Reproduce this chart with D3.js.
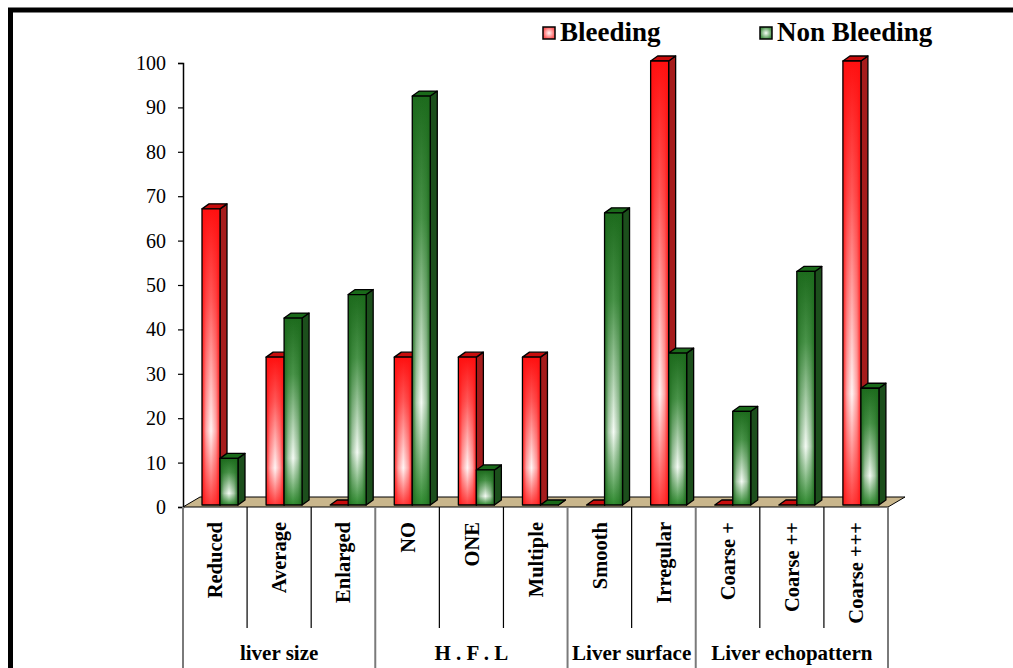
<!DOCTYPE html>
<html>
<head>
<meta charset="utf-8">
<script src="https://cdn.jsdelivr.net/npm/d3@7"></script>
<style>
  body { margin: 0; background: #fff; }
  svg { display: block; font-family: "Liberation Serif", "Times New Roman", serif; }
</style>
</head>
<body>
<svg id="chart" width="1013" height="668"></svg>
<script>
// data (percentages)
const categories = ["Reduced", "Average", "Enlarged", "NO", "ONE", "Multiple", "Smooth", "Irregular", "Coarse +", "Coarse ++", "Coarse +++"];
const groups = ["liver size", "H . F . L", "Liver surface", "Liver echopattern"];
const groupSizes = [3, 3, 2, 3];
const series = ["Bleeding", "Non Bleeding"];
const bleeding = [66.7, 33.3, 0, 33.3, 33.3, 33.3, 0, 100, 0, 0, 100];
const nonBleeding = [10.5, 42.1, 47.4, 92.1, 7.9, 0, 65.8, 34.2, 21.1, 52.6, 26.3];
const yTicks = d3.range(0, 101, 10);

const serif = "'Liberation Serif', 'Times New Roman', serif";
const svg = d3.select("#chart");
const width = +svg.attr("width"), height = +svg.attr("height");

const plotLeft = 183, plotRight = 888, plotTop = 63, plotBottom = 507;
const floorDx = 17, floorDy = -10;   // floor depth
const barDx = 7, barDy = -5;         // bar depth
const barLift = 2;                   // bars stand a bit back on the floor

const x = d3.scaleBand().domain(categories).range([plotLeft, plotRight]);
const xs = d3.scaleBand().domain(series).range([19, 55]);
const y = d3.scaleLinear().domain([0, 100]).range([plotBottom, plotTop]);

const colors = {
  "Bleeding": { base: "#ff1010", mid: "#ff5a5a", light: "#fff6f6", foot: "#ff3a3a", side: "#a61c1c", top: "#c80c0c" },
  "Non Bleeding": { base: "#1d6b1d", mid: "#4a944a", light: "#f6fcf6", foot: "#2e8a2e", side: "#1c4f1c", top: "#1a6a1a" }
};

// gradients
const defs = svg.append("defs");
series.forEach((s, i) => {
  const c = colors[s];
  const v = defs.append("linearGradient").attr("id", "v" + i)
    .attr("x1", 0).attr("y1", 0).attr("x2", 0).attr("y2", 1);
  v.append("stop").attr("offset", 0).attr("stop-color", c.base);
  v.append("stop").attr("offset", 0.3).attr("stop-color", c.mid);
  v.append("stop").attr("offset", 0.75).attr("stop-color", c.light);
  v.append("stop").attr("offset", 1).attr("stop-color", c.foot);
  const h = defs.append("linearGradient").attr("id", "h" + i)
    .attr("x1", 0).attr("y1", 0).attr("x2", 1).attr("y2", 0);
  h.append("stop").attr("offset", 0).attr("stop-color", c.base).attr("stop-opacity", 0.95);
  h.append("stop").attr("offset", 0.22).attr("stop-color", c.base).attr("stop-opacity", 0.35);
  h.append("stop").attr("offset", 0.5).attr("stop-color", c.base).attr("stop-opacity", 0);
  h.append("stop").attr("offset", 0.78).attr("stop-color", c.base).attr("stop-opacity", 0.35);
  h.append("stop").attr("offset", 1).attr("stop-color", c.base).attr("stop-opacity", 0.95);
  const r = defs.append("radialGradient").attr("id", "r" + i);
  r.append("stop").attr("offset", 0).attr("stop-color", c.light);
  r.append("stop").attr("offset", 1).attr("stop-color", c.mid);
});

// outer frame
svg.append("rect")
  .attr("x", 10.5).attr("y", 10).attr("width", width + 20).attr("height", height + 20)
  .attr("fill", "none").attr("stroke", "#000").attr("stroke-width", 5);

// floor
svg.append("path")
  .attr("d", `M${plotLeft},${plotBottom} L${plotRight},${plotBottom} L${plotRight + floorDx},${plotBottom + floorDy} L${plotLeft + floorDx},${plotBottom + floorDy} Z`)
  .attr("fill", "#c9b68c").attr("stroke", "#000").attr("stroke-width", 1);

// y axis
const yAxis = svg.append("g")
  .attr("transform", `translate(${plotLeft},0)`)
  .call(d3.axisLeft(y).tickValues(yTicks).tickSize(5).tickPadding(12))
  .attr("font-family", serif).attr("font-size", 20);
yAxis.select(".domain").attr("stroke-width", 1.5);
yAxis.selectAll("line").attr("stroke-width", 1.2);
yAxis.selectAll("text").attr("fill", "#000");

// bars
const rows = categories.map((c, i) => ({ cat: c, vals: [bleeding[i], nonBleeding[i]] }));
const barG = svg.append("g");
rows.forEach(row => {
  row.vals.forEach((v, si) => {
    const s = series[si], c = colors[s];
    const x0 = x(row.cat) + xs(s), w = xs.bandwidth();
    const yb = plotBottom - barLift, yt = y(v) - barLift;
    const g = barG.append("g").attr("stroke", "#000").attr("stroke-width", 1.3).attr("stroke-linejoin", "round");
    g.append("path")
      .attr("d", `M${x0 + w},${yt} L${x0 + w + barDx},${yt + barDy} L${x0 + w + barDx},${yb + barDy} L${x0 + w},${yb} Z`)
      .attr("fill", c.side);
    g.append("path")
      .attr("d", `M${x0},${yt} L${x0 + barDx},${yt + barDy} L${x0 + w + barDx},${yt + barDy} L${x0 + w},${yt} Z`)
      .attr("fill", c.top);
    if (yb - yt > 0) {
      g.append("rect").attr("x", x0).attr("y", yt).attr("width", w).attr("height", yb - yt)
        .attr("fill", `url(#v${si})`).attr("stroke", "none");
      g.append("rect").attr("x", x0).attr("y", yt).attr("width", w).attr("height", yb - yt)
        .attr("fill", `url(#h${si})`);
    }
  });
});

// category separators and labels
let start = 0;
const sepG = svg.append("g").attr("font-family", serif);
groups.forEach((gname, gi) => {
  const n = groupSizes[gi];
  const cats = categories.slice(start, start + n);
  const gx0 = x(cats[0]), gx1 = x(cats[n - 1]) + x.bandwidth();
  sepG.append("text")
    .attr("x", (gx0 + gx1) / 2).attr("y", 660)
    .attr("text-anchor", "middle")
    .style("font-size", "21px").style("font-weight", "bold")
    .text(gname);
  cats.slice(1).forEach(c => {
    sepG.append("line").attr("x1", x(c)).attr("x2", x(c)).attr("y1", plotBottom).attr("y2", 628)
      .attr("stroke", "#000").attr("stroke-width", 1.2);
  });
  start += n;
});
// group boundaries
let acc = 0;
[0].concat(groupSizes).forEach(n => {
  acc += n;
  const gx = acc < categories.length ? x(categories[acc]) : plotRight;
  sepG.append("line").attr("x1", gx).attr("x2", gx).attr("y1", plotBottom).attr("y2", height)
    .attr("stroke", "#7a7a7a").attr("stroke-width", 2);
});

sepG.selectAll("text.cat")
  .data(categories)
  .join("text")
  .attr("class", "cat")
  .attr("transform", d => `translate(${x(d) + x.bandwidth() / 2},522) rotate(-90)`)
  .attr("text-anchor", "end")
  .attr("dy", "0.35em")
  .style("font-size", "20.5px").style("font-weight", "bold")
  .text(d => d);

// legend
const legend = svg.append("g").attr("font-family", serif);
const legendX = [543, 760];
series.forEach((s, i) => {
  legend.append("rect").attr("x", legendX[i]).attr("y", 27).attr("width", 12).attr("height", 12)
    .attr("fill", `url(#r${i})`).attr("stroke", "#000").attr("stroke-width", 1.5);
  legend.append("text").attr("x", legendX[i] + 17).attr("y", 41)
    .style("font-size", "27px").style("font-weight", "bold")
    .text(s);
});
</script>
</body>
</html>
